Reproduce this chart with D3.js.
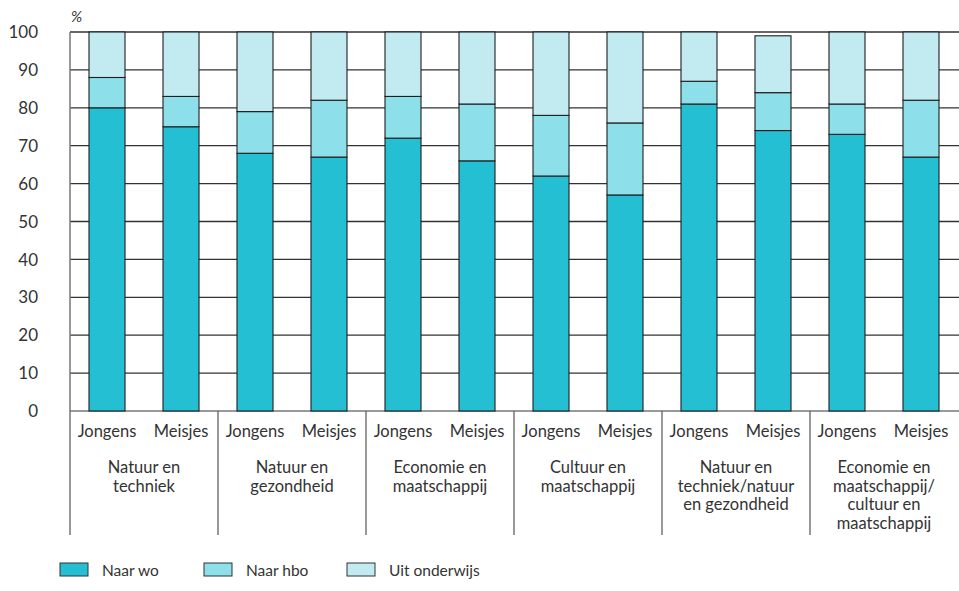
<!DOCTYPE html>
<html>
<head>
<meta charset="utf-8">
<script src="https://cdn.jsdelivr.net/npm/d3@7"></script>
<style>
  html, body { margin: 0; padding: 0; background: #fff; }
  svg { display: block; font-family: Lato, "Open Sans", sans-serif; }
  text { fill: #333; }
</style>
</head>
<body>
<svg id="chart" width="959" height="591"></svg>
<script>
// Uitstroom per profiel en geslacht (%)
const groups = [
  ["Natuur en", "techniek"],
  ["Natuur en", "gezondheid"],
  ["Economie en", "maatschappij"],
  ["Cultuur en", "maatschappij"],
  ["Natuur en", "techniek/natuur", "en gezondheid"],
  ["Economie en", "maatschappij/", "cultuur en", "maatschappij"]
];
const sexes = ["Jongens", "Meisjes"];
const seriesNames = ["Naar wo", "Naar hbo", "Uit onderwijs"];
const seriesColors = ["#25bfd4", "#8ddfe9", "#c2ebf1"];

// One value per bar, in order: group 1 Jongens, group 1 Meisjes, group 2 Jongens, ...
const naarWo        = [80, 75, 68, 67, 72, 66, 62, 57, 81, 74, 73, 67];
const naarHbo       = [ 8,  8, 11, 15, 11, 15, 16, 19,  6, 10,  8, 15];
const uitOnderwijs  = [12, 17, 21, 18, 17, 19, 22, 24, 13, 15, 19, 18];
const yTicks = [0, 10, 20, 30, 40, 50, 60, 70, 80, 90, 100];

const rows = naarWo.map((d, i) => ({
  key: i,
  group: Math.floor(i / 2),
  sex: sexes[i % 2],
  "Naar wo": d,
  "Naar hbo": naarHbo[i],
  "Uit onderwijs": uitOnderwijs[i]
}));

const svg = d3.select("#chart");
const plotLeft = 70, plotRight = 958, plotTop = 32, plotBottom = 411, sepBottom = 535;

const x = d3.scaleBand()
  .domain(rows.map(d => d.key))
  .range([plotLeft, plotRight])
  .paddingInner(0.5135)
  .paddingOuter(0.2568);

const y = d3.scaleLinear().domain([0, 100]).range([plotBottom, plotTop]);

// horizontal gridlines
svg.append("g")
  .selectAll("line")
  .data(yTicks)
  .join("line")
  .attr("x1", plotLeft).attr("x2", 959)
  .attr("y1", d => y(d)).attr("y2", d => y(d))
  .attr("stroke", d => d === 0 ? "#777" : "#333")
  .attr("stroke-width", d => d === 0 ? 1.5 : 1.3);

// y tick labels
svg.append("g")
  .selectAll("text")
  .data(yTicks)
  .join("text")
  .attr("x", 38)
  .attr("y", d => y(d))
  .attr("dy", "0.36em")
  .attr("text-anchor", "end")
  .style("font-size", "17px")
  .text(d => d);

svg.append("text")
  .attr("x", 71).attr("y", 22)
  .style("font-size", "15px")
  .style("font-style", "italic")
  .text("%");

// stacked bars
const stack = d3.stack().keys(seriesNames)(rows);
svg.append("g")
  .selectAll("g")
  .data(stack)
  .join("g")
  .attr("fill", (d, i) => seriesColors[i])
  .selectAll("rect")
  .data(d => d)
  .join("rect")
  .attr("x", d => x(d.data.key))
  .attr("width", x.bandwidth())
  .attr("y", d => y(d[1]))
  .attr("height", d => y(d[0]) - y(d[1]))
  .attr("stroke", "#1e1e1e")
  .attr("stroke-width", 1.1);

// vertical axis line and group separators
svg.append("line")
  .attr("x1", plotLeft).attr("x2", plotLeft)
  .attr("y1", plotTop).attr("y2", sepBottom)
  .attr("stroke", "#777").attr("stroke-width", 1.5);
svg.append("g")
  .selectAll("line")
  .data(d3.range(1, groups.length))
  .join("line")
  .attr("x1", g => plotLeft + g * x.step() * 2)
  .attr("x2", g => plotLeft + g * x.step() * 2)
  .attr("y1", plotBottom).attr("y2", sepBottom)
  .attr("stroke", "#555").attr("stroke-width", 1.2);

// bar labels
svg.append("g")
  .selectAll("text")
  .data(rows)
  .join("text")
  .attr("x", d => x(d.key) + x.bandwidth() / 2)
  .attr("y", 437)
  .attr("text-anchor", "middle")
  .style("font-size", "16.5px")
  .text(d => d.sex);

// group labels
const gl = svg.append("g")
  .selectAll("text")
  .data(groups)
  .join("text")
  .attr("x", (d, i) => plotLeft + (i * 2 + 1) * x.step())
  .attr("y", 473)
  .attr("text-anchor", "middle")
  .style("font-size", "16.5px");
gl.selectAll("tspan")
  .data(d => d)
  .join("tspan")
  .attr("x", function () { return this.parentNode.getAttribute("x"); })
  .attr("dy", (d, i) => i === 0 ? 0 : 18.7)
  .text(d => d);

// legend
const legendX = [60, 204, 347];
const lg = svg.append("g")
  .selectAll("g")
  .data(seriesNames)
  .join("g")
  .attr("transform", (d, i) => `translate(${legendX[i]},563)`);
lg.append("rect")
  .attr("width", 28).attr("height", 13)
  .attr("fill", (d, i) => seriesColors[i])
  .attr("stroke", "#333").attr("stroke-width", 1);
lg.append("text")
  .attr("x", 42).attr("y", 13)
  .style("font-size", "15.5px")
  .text(d => d);
</script>
</body>
</html>
